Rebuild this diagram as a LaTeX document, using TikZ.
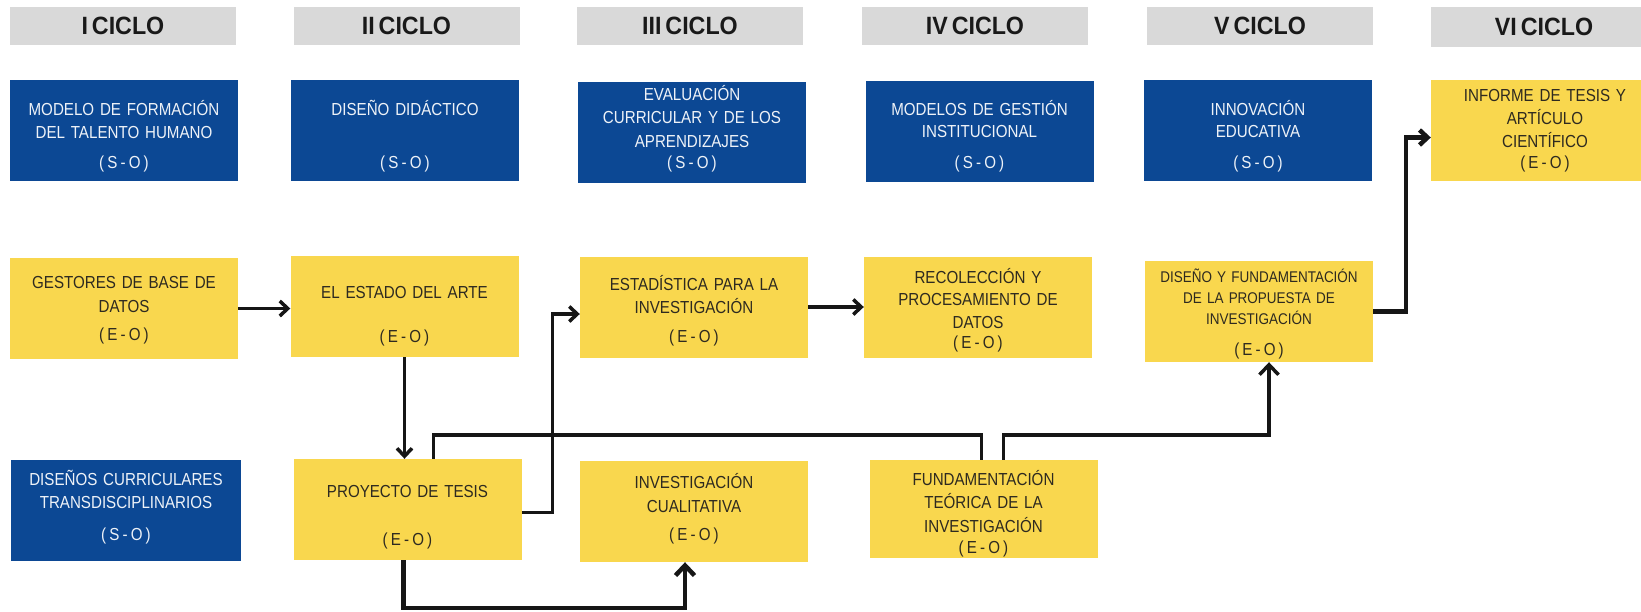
\documentclass[tikz,border=0pt]{standalone}
\usepackage{fontspec}
\setmainfont{Liberation Sans}[FakeStretch=0.87,WordSpace=0.65]
\newfontfamily\pfont{Liberation Sans}[FakeStretch=0.87,LetterSpace=18]
\newfontfamily\hfont{Liberation Sans}[FakeStretch=0.93,WordSpace=0.6]
\usetikzlibrary{arrows.meta}
\definecolor{hdrgrey}{HTML}{D9D9D9}
\definecolor{navy}{HTML}{0C4894}
\definecolor{gold}{HTML}{F9D74E}
\definecolor{ink}{HTML}{2E2A20}
\definecolor{pale}{HTML}{EEF2F8}
\definecolor{wire}{HTML}{161616}
\newcommand{\tagSO}{{\pfont(S-O)}}
\newcommand{\tagEO}{{\pfont(E-O)}}
\begin{document}
\begin{tikzpicture}[x=1pt,y=-1pt,
  hdr/.style={fill=hdrgrey, minimum width=226pt, minimum height=38pt, inner sep=0pt,
    font=\hfont\fontsize{25}{28}\selectfont\bfseries, text=black!90},
  bluebox/.style={fill=navy, minimum width=228pt, minimum height=101pt, inner sep=0pt},
  goldbox/.style={fill=gold, minimum width=228pt, minimum height=101pt, inner sep=0pt},
  wtxt/.style={text=pale, anchor=base, text width=226pt, align=center, inner sep=0pt,
    font=\fontsize{17.4}{23}\selectfont},
  btxt/.style={text=ink, anchor=base, text width=226pt, align=center, inner sep=0pt,
    font=\fontsize{17.4}{23}\selectfont},
  conn/.style={draw=wire, line width=3.5pt},
  fat/.style={draw=wire, line width=4.5pt},
  tip/.style={-{Straight Barb[length=8pt,width=15pt]}},
  bigtip/.style={-{Straight Barb[length=10pt,width=19pt]}}
]
\useasboundingbox[fill=white] (0,0) rectangle (1641,611);

% headers
\node[hdr] (h1) at (123,26) {I CICLO};
\node[hdr] (h2) at (406.5,26) {II CICLO};
\node[hdr] (h3) at (690,26) {III CICLO};
\node[hdr] (h4) at (975,26) {IV CICLO};
\node[hdr] (h5) at (1260,26) {V CICLO};
\node[hdr, minimum height=40pt] (h6) at (1544,27) {VI CICLO};

% top row
\node[bluebox] (b1) at (124,130.5) {};
\node[wtxt] (b1t) at (124,115) {MODELO DE FORMACIÓN\\ DEL TALENTO HUMANO\\[7pt] \tagSO};
\node[bluebox] (b2) at (405,130.5) {};
\node[wtxt] (b2t) at (405,115) {DISEÑO DIDÁCTICO\\[30pt] \tagSO};
\node[bluebox] (b3) at (692,132) {};
\node[wtxt] (b3t) at (692,100) {EVALUACIÓN\\ CURRICULAR Y DE LOS\\[1pt] APRENDIZAJES\\[-2pt] \tagSO};
\node[bluebox] (b4) at (979.5,131.5) {};
\node[wtxt] (b4t) at (979.5,115) {MODELOS DE GESTIÓN\\[-1pt] INSTITUCIONAL\\[8pt] \tagSO};
\node[bluebox] (b5) at (1258,130.5) {};
\node[wtxt] (b5t) at (1258,115) {INNOVACIÓN\\[-1pt] EDUCATIVA\\[8pt] \tagSO};
\node[goldbox] (inf) at (1545,130.5) {};
\node[btxt] (inft) at (1545,101) {INFORME DE TESIS Y\\ ARTÍCULO\\ CIENTÍFICO\\[-2pt] \tagEO};

% middle row
\node[goldbox] (gest) at (124,308.5) {};
\node[btxt] (gestt) at (124,288) {GESTORES DE BASE DE\\[1pt] DATOS\\[5pt] \tagEO};
\node[goldbox] (estado) at (404.5,306.5) {};
\node[btxt] (estadot) at (404.5,298) {EL ESTADO DEL ARTE\\[21pt] \tagEO};
\node[goldbox] (estad) at (694,307) {};
\node[btxt] (estadt) at (694,290) {ESTADÍSTICA PARA LA\\ INVESTIGACIÓN\\[6pt] \tagEO};
\node[goldbox] (recol) at (978,307) {};
\node[btxt] (recolt) at (978,283) {RECOLECCIÓN Y\\[-1pt] PROCESAMIENTO DE\\ DATOS\\[-3pt] \tagEO};
\node[goldbox] (dis) at (1259,311.5) {};
\node[btxt, font=\fontsize{15.5}{21}\selectfont] (dist) at (1259,282) {DISEÑO Y FUNDAMENTACIÓN\\ DE LA PROPUESTA DE\\ INVESTIGACIÓN\\[10pt] {\fontsize{17.4}{23}\selectfont\tagEO}};

% bottom row
\node[bluebox, minimum width=230pt] (dcur) at (126,510.5) {};
\node[wtxt] (dcurt) at (126,485) {DISEÑOS CURRICULARES\\ TRANSDISCIPLINARIOS\\[9pt] \tagSO};
\node[goldbox] (proj) at (407.5,509.5) {};
\node[btxt] (projt) at (407.5,497) {PROYECTO DE TESIS\\[25pt] \tagEO};
\node[goldbox] (invc) at (694,511.5) {};
\node[btxt] (invct) at (694,488) {INVESTIGACIÓN\\[1pt] CUALITATIVA\\[5pt] \tagEO};
\node[goldbox, minimum height=98pt] (fund) at (983.5,509) {};
\node[btxt] (fundt) at (983.5,485) {FUNDAMENTACIÓN\\ TEÓRICA DE LA\\[1pt] INVESTIGACIÓN\\[-2pt] \tagEO};

% connectors
\draw[conn, tip] (gest.east) -- (gest.east -| estado.west);
\draw[conn, tip] (estado.south) -- (estado.south |- proj.north);
\draw[conn, tip] ([yshift=-3pt]proj.east) -- ++(31,0) |- ([yshift=-7pt]estad.west);
\draw[conn, tip] (estad.east) -- (estad.east -| recol.west);
\draw[conn] ([xshift=26pt]proj.north) -- ++(0,-24) -| ([xshift=-2pt]fund.north);
\draw[conn, bigtip] ([xshift=20pt]fund.north) -- ++(0,-25) -| ([xshift=10pt]dis.south);
\draw[fat, bigtip] ([xshift=-4pt]proj.south) -- ++(0,48) -| ([xshift=-9pt]invc.south);
\draw[fat, tip] (dis.east) -- ++(33,0) |- ([yshift=-7pt]inf.west);
\end{tikzpicture}
\end{document}
